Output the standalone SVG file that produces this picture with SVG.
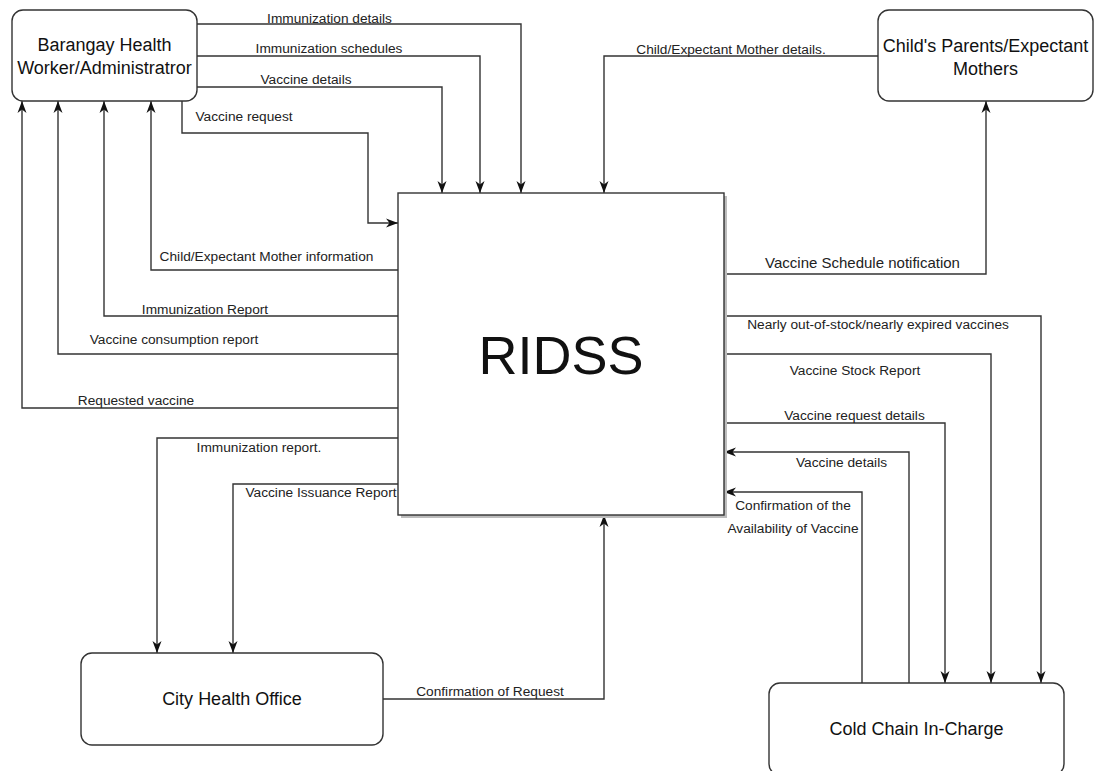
<svg xmlns="http://www.w3.org/2000/svg" width="1096" height="771" viewBox="0 0 1096 771">
<style>
.node{fill:#fff;stroke:#333;stroke-width:1.4}
.ntext{font-family:"Liberation Sans",Arial,sans-serif;font-size:18px;fill:#111;text-anchor:middle}
.big{font-family:"Liberation Sans",Arial,sans-serif;font-size:54px;fill:#111;text-anchor:middle}
.edge{fill:none;stroke:#333;stroke-width:1.4}
.arr{marker-end:url(#ah)}
.lbl{font-family:"Liberation Sans",Arial,sans-serif;font-size:13.7px;fill:#222;text-anchor:middle}
</style>
<defs>
<marker id="ah" viewBox="0 0 12 10" refX="12" refY="5" markerWidth="12" markerHeight="10" markerUnits="userSpaceOnUse" orient="auto">
<path d="M0,0.5 L12,5 L0,9.5 L3.5,5 Z" fill="#111"/>
</marker>
</defs>
<rect width="1096" height="771" fill="#fff"/>

<g id="connectors">
<path class="edge arr" d="M197,24 H521 V193"/>
<path class="edge arr" d="M197,56 H480 V193"/>
<path class="edge arr" d="M197,87 H442 V193"/>
<path class="edge arr" d="M182,101 V133 H368 V223 H398"/>
<path class="edge arr" d="M878,56 H604 V193"/>
<path class="edge arr" d="M398,270 H151 V101"/>
<path class="edge arr" d="M398,316 H104 V101"/>
<path class="edge arr" d="M398,354 H58 V101"/>
<path class="edge arr" d="M398,408 H22 V101"/>
<path class="edge arr" d="M398,438 H157 V653"/>
<path class="edge arr" d="M398,484 H233 V653"/>
<path class="edge arr" d="M383,699 H604 V515"/>
<path class="edge arr" d="M724,274 H986 V101"/>
<path class="edge arr" d="M724,316 H1041 V683"/>
<path class="edge arr" d="M724,354 H991 V683"/>
<path class="edge arr" d="M724,423 H945 V683"/>
<path class="edge arr" d="M909,683 V452 H724"/>
<path class="edge arr" d="M862,683 V492 H724"/>

<text class="lbl" x="329.5" y="22.5">Immunization details</text>
<text class="lbl" x="329" y="53">Immunization schedules</text>
<text class="lbl" x="306" y="84">Vaccine details</text>
<text class="lbl" x="244" y="121">Vaccine request</text>
<text class="lbl" x="731" y="54">Child/Expectant Mother details.</text>
<text class="lbl" x="266.5" y="261">Child/Expectant Mother information</text>
<text class="lbl" x="205" y="314">Immunization Report</text>
<text class="lbl" x="174" y="344">Vaccine consumption report</text>
<text class="lbl" x="136" y="405">Requested vaccine</text>
<text class="lbl" x="259" y="452">Immunization report.</text>
<text class="lbl" x="321" y="497">Vaccine Issuance Report</text>
<text class="lbl" x="490" y="696">Confirmation of Request</text>
<text class="lbl" x="862.5" y="267.5" style="font-size:15px">Vaccine Schedule notification</text>
<text class="lbl" x="878" y="329">Nearly out-of-stock/nearly expired vaccines</text>
<text class="lbl" x="855" y="375">Vaccine Stock Report</text>
<text class="lbl" x="854.5" y="420">Vaccine request details</text>
<text class="lbl" x="841.5" y="467">Vaccine details</text>
<text class="lbl" x="793" y="510">Confirmation of the</text>
<text class="lbl" x="793" y="533">Availability of Vaccine</text>
</g>

<g id="ridss">
<rect x="401" y="196" width="326" height="322" fill="#bdbdbd"/>
<rect class="node" x="398" y="193" width="326" height="322"/>
<text class="big" x="561" y="374">RIDSS</text>
</g>

<g id="barangay">
<rect class="node" x="12" y="10" width="185" height="91" rx="11"/>
<text class="ntext" x="104.5" y="51">Barangay Health</text>
<text class="ntext" x="104.5" y="74">Worker/Administratror</text>
</g>

<g id="parents">
<rect class="node" x="878" y="10" width="215" height="91" rx="11"/>
<text class="ntext" x="985.5" y="52">Child's Parents/Expectant</text>
<text class="ntext" x="985.5" y="75">Mothers</text>
</g>

<g id="cityhealth">
<rect class="node" x="81" y="653" width="302" height="92" rx="11"/>
<text class="ntext" x="232" y="705">City Health Office</text>
</g>

<g id="coldchain">
<rect class="node" x="769" y="683" width="295" height="92" rx="11"/>
<text class="ntext" x="916.5" y="735">Cold Chain In-Charge</text>
</g>
</svg>
